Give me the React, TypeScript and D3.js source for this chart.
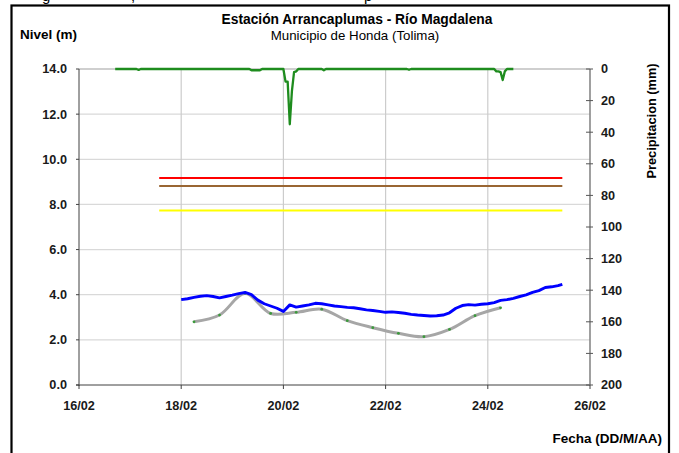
import * as d3 from "d3";

const parse = d3.timeParse("%d/%m %H:%M");

// nivel del rio (m), lectura cada 3 horas
const levelTimes = [
  "18/02 00:00", "18/02 03:00", "18/02 06:00", "18/02 09:00", "18/02 12:00", "18/02 15:00", "18/02 18:00", "18/02 21:00",
  "19/02 00:00", "19/02 03:00", "19/02 06:00", "19/02 09:00", "19/02 12:00", "19/02 15:00", "19/02 18:00", "19/02 21:00",
  "20/02 00:00", "20/02 03:00", "20/02 06:00", "20/02 09:00", "20/02 12:00", "20/02 15:00", "20/02 18:00", "20/02 21:00",
  "21/02 00:00", "21/02 03:00", "21/02 06:00", "21/02 09:00", "21/02 12:00", "21/02 15:00", "21/02 18:00", "21/02 21:00",
  "22/02 00:00", "22/02 03:00", "22/02 06:00", "22/02 09:00", "22/02 12:00", "22/02 15:00", "22/02 18:00", "22/02 21:00",
  "23/02 00:00", "23/02 03:00", "23/02 06:00", "23/02 09:00", "23/02 12:00", "23/02 15:00", "23/02 18:00", "23/02 21:00",
  "24/02 00:00", "24/02 03:00", "24/02 06:00", "24/02 09:00", "24/02 12:00", "24/02 15:00", "24/02 18:00", "24/02 21:00",
  "25/02 00:00", "25/02 03:00", "25/02 06:00", "25/02 09:00", "25/02 11:00",
];
const levelValues = [
  3.78, 3.82, 3.88, 3.93, 3.96, 3.92, 3.86, 3.92,
  3.98, 4.05, 4.1, 4.0, 3.76, 3.6, 3.5, 3.4,
  3.26, 3.55, 3.45, 3.5, 3.55, 3.62, 3.6, 3.55,
  3.5, 3.47, 3.44, 3.42, 3.38, 3.33, 3.3, 3.26,
  3.22, 3.24, 3.21, 3.18, 3.13, 3.1, 3.08, 3.06,
  3.07, 3.1, 3.2, 3.4, 3.52, 3.56, 3.54, 3.58,
  3.6, 3.65, 3.75, 3.78, 3.84, 3.92, 3.99, 4.1,
  4.18, 4.32, 4.35, 4.4, 4.46,
];

// nivel suavizado (gris con marcadores)
const smoothTimes = [
  "18/02 06:00", "18/02 18:00", "19/02 06:00", "19/02 18:00", "20/02 06:00", "20/02 18:00", "21/02 06:00",
  "21/02 18:00", "22/02 06:00", "22/02 18:00", "23/02 06:00", "23/02 18:00", "24/02 06:00",
];
const smoothValues = [2.8, 3.1, 4.06, 3.17, 3.22, 3.36, 2.85, 2.54, 2.29, 2.14, 2.46, 3.07, 3.42];

// precipitacion (mm)
const precipTimes = [
  "16/02 17:00", "17/02 03:00", "17/02 04:00", "17/02 05:00", "19/02 08:00", "19/02 09:00", "19/02 13:00", "19/02 14:00",
  "20/02 00:00", "20/02 01:00", "20/02 02:00", "20/02 03:00", "20/02 04:00", "20/02 05:00", "20/02 06:00", "20/02 07:00",
  "20/02 18:00", "20/02 19:00", "20/02 20:00", "22/02 10:00", "22/02 11:00", "22/02 12:00",
  "24/02 03:00", "24/02 04:00", "24/02 05:00", "24/02 06:00", "24/02 07:00", "24/02 08:00", "24/02 09:00", "24/02 12:00",
];
const precipValues = [
  0, 0, 0.6, 0, 0, 0.8, 0.8, 0,
  0, 8, 8, 35, 14, 2, 1.5, 0,
  0, 0.8, 0, 0, 0.5, 0,
  0, 1.5, 1.5, 2, 7, 1.5, 0, 0,
];

// umbrales de alerta
const thresholdValues = [9.17, 8.82, 7.73];
const thresholdColors = ["#ff0000", "#996633", "#ffff00"];
const thresholdStart = "17/02 13:40";
const thresholdEnd = "25/02 11:00";

const dateTicks = ["16/02", "18/02", "20/02", "22/02", "24/02", "26/02"];
const levelTicks = [0, 2, 4, 6, 8, 10, 12, 14];
const precipTicks = [0, 20, 40, 60, 80, 100, 120, 140, 160, 180, 200];

const W = 679;
const H = 453;
const left = 79;
const right = 590;
const top = 69;
const bottom = 385;
const font = "'Liberation Sans', Arial, sans-serif";

export default function App() {
  const x = d3
    .scaleTime()
    .domain([parse("16/02 00:00")!, parse("26/02 00:00")!])
    .range([left, right]);
  const yL = d3.scaleLinear().domain([0, 14]).range([bottom, top]);
  const yP = d3.scaleLinear().domain([0, 200]).range([top, bottom]);

  const level = levelTimes.map((t, i) => [parse(t)!, levelValues[i]] as [Date, number]);
  const smooth = smoothTimes.map((t, i) => [parse(t)!, smoothValues[i]] as [Date, number]);
  const precip = precipTimes.map((t, i) => [parse(t)!, precipValues[i]] as [Date, number]);

  const levelLine = d3
    .line<[Date, number]>()
    .x((d) => x(d[0]))
    .y((d) => yL(d[1]));
  const smoothLine = d3
    .line<[Date, number]>()
    .x((d) => x(d[0]))
    .y((d) => yL(d[1]))
    .curve(d3.curveCatmullRom.alpha(0.5));
  const precipLine = d3
    .line<[Date, number]>()
    .x((d) => x(d[0]))
    .y((d) => yP(d[1]));

  const fmt = d3.format(".1f");

  return (
    <svg
      width={W}
      height={H}
      style={{ position: "absolute", left: 0, top: 0, background: "#fff" }}
      fontFamily={font}
    >
      {/* restos de la linea de texto de arriba */}
      <text x={42} y={1} fontSize={15}>g</text>
      <text x={131} y={1} fontSize={15}>,</text>
      <text x={364} y={1} fontSize={15}>p</text>

      <rect x={11.5} y={5.5} width={657.5} height={460} fill="none" stroke="#000" strokeWidth={2.2} />

      {/* cuadricula */}
      {levelTicks.slice(1).map((v) => (
        <line key={"h" + v} x1={left} x2={right} y1={yL(v)} y2={yL(v)} stroke={v === 14 ? "#a0a0a0" : "#d9d9d9"} strokeWidth={1.2} />
      ))}
      {dateTicks.slice(1, -1).map((t) => (
        <line key={"v" + t} x1={x(parse(t + " 00:00")!)} x2={x(parse(t + " 00:00")!)} y1={top} y2={bottom} stroke="#cccccc" strokeWidth={1.2} />
      ))}

      {/* umbrales */}
      {thresholdValues.map((v, i) => (
        <line
          key={"t" + i}
          x1={x(parse(thresholdStart)!)}
          x2={x(parse(thresholdEnd)!)}
          y1={yL(v)}
          y2={yL(v)}
          stroke={thresholdColors[i]}
          strokeWidth={2}
        />
      ))}

      {/* precipitacion */}
      <path d={precipLine(precip)!} fill="none" stroke="#1e8c1e" strokeWidth={2.3} strokeLinejoin="round" />

      {/* nivel suavizado */}
      <path d={smoothLine(smooth)!} fill="none" stroke="#a6a6a6" strokeWidth={3} />
      {smooth.map((d, i) => (
        <circle key={"m" + i} cx={x(d[0])} cy={yL(d[1])} r={1.4} fill="#3a9a3a" />
      ))}

      {/* nivel */}
      <path d={levelLine(level)!} fill="none" stroke="#0000ff" strokeWidth={2.9} strokeLinejoin="round" />

      {/* ejes */}
      <line x1={left} x2={left} y1={top} y2={bottom + 1} stroke="#404040" strokeWidth={1} />
      <line x1={left - 3} x2={right} y1={bottom} y2={bottom} stroke="#404040" strokeWidth={1} />
      <line x1={right} x2={right} y1={top} y2={bottom} stroke="#888888" strokeWidth={1.6} />

      {levelTicks.map((v) => (
        <g key={"l" + v}>
          <line x1={left - 3} x2={left} y1={yL(v)} y2={yL(v)} stroke="#404040" />
          <text x={67} y={yL(v)} dy="0.35em" textAnchor="end" fontSize={12.7} fontWeight="bold" fill="#1a1a1a">
            {fmt(v)}
          </text>
        </g>
      ))}
      {precipTicks.map((v) => (
        <g key={"p" + v}>
          <line x1={right - 4} x2={right + 3} y1={yP(v)} y2={yP(v)} stroke="#555" />
          <text x={601} y={yP(v)} dy="0.35em" fontSize={12.7} fontWeight="bold" fill="#1a1a1a">
            {v}
          </text>
        </g>
      ))}
      {dateTicks.map((t) => {
        const px = x(parse(t + " 00:00")!);
        return (
          <g key={"d" + t}>
            <line x1={px} x2={px} y1={bottom} y2={bottom + 4} stroke="#404040" />
            <text x={px} y={410} textAnchor="middle" fontSize={12.7} fontWeight="bold" fill="#1a1a1a">
              {t}
            </text>
          </g>
        );
      })}

      {/* titulos */}
      <text x={357} y={24} textAnchor="middle" fontSize={13.8} fontWeight="bold">
        Estación Arrancaplumas - Río Magdalena
      </text>
      <text x={355} y={40} textAnchor="middle" fontSize={13.3}>
        Municipio de Honda (Tolima)
      </text>
      <text x={20} y={39} fontSize={13.5} fontWeight="bold">
        Nivel (m)
      </text>
      <text transform="translate(656,121) rotate(-90)" textAnchor="middle" fontSize={12.8} fontWeight="bold">
        Precipitacion (mm)
      </text>
      <text x={662} y={443} textAnchor="end" fontSize={13.5} fontWeight="bold">
        Fecha (DD/M/AA)
      </text>
    </svg>
  );
}
